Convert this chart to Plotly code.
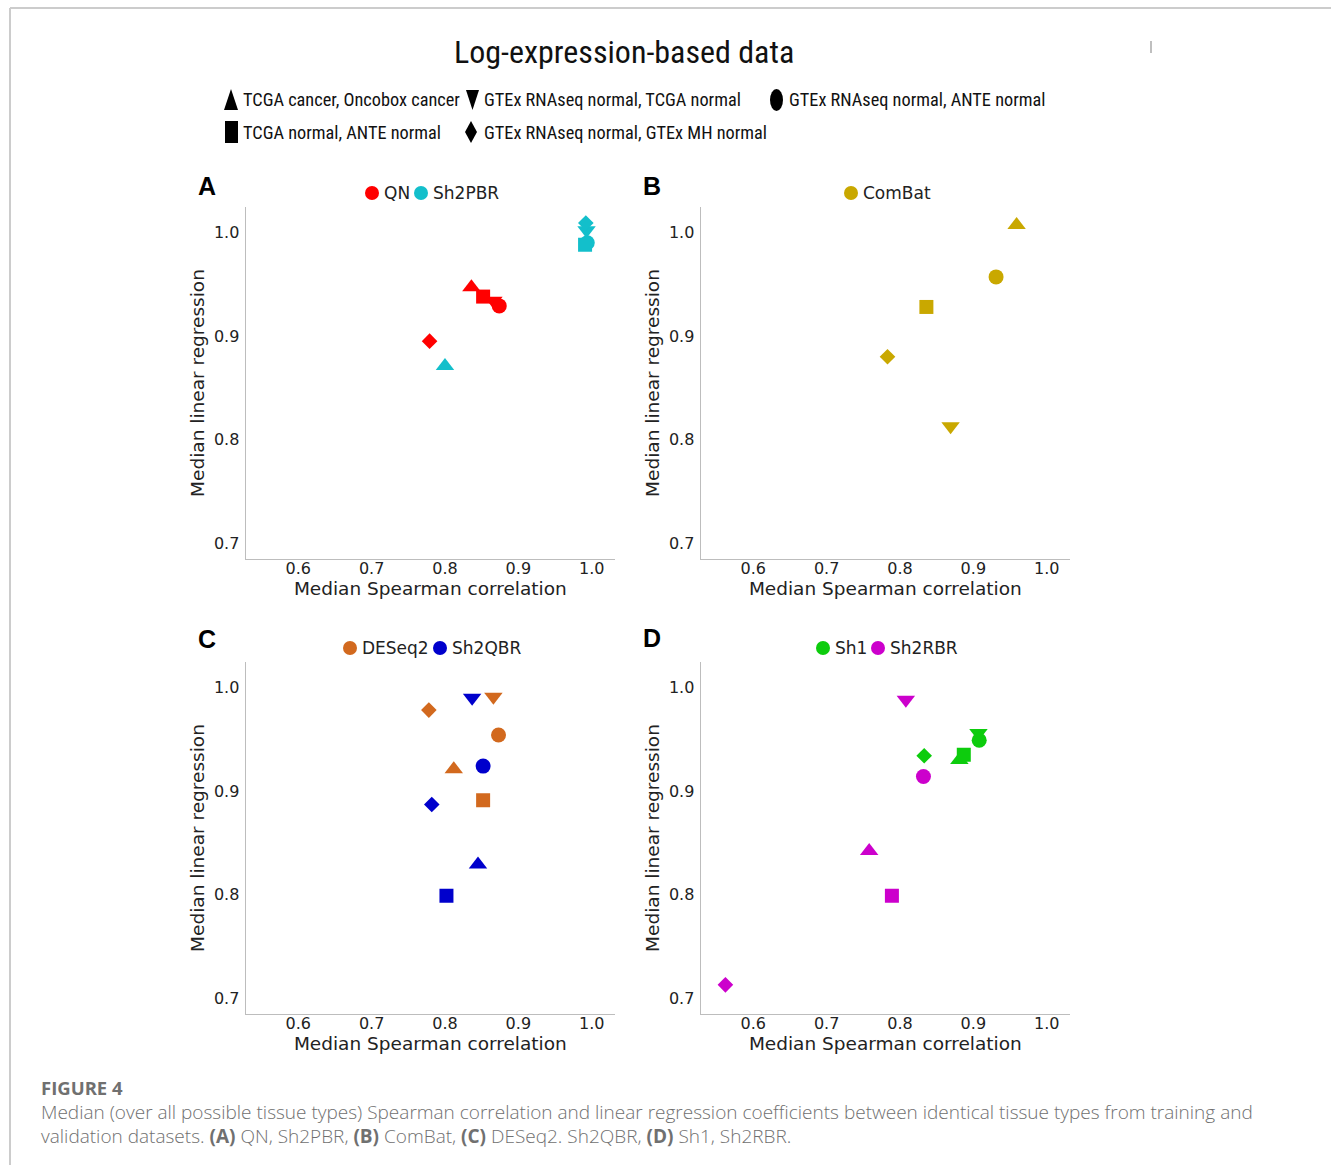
import plotly.graph_objects as go

W, H = 1331, 1165

# Shape order used for every method: sample pairs
pair_symbols = ["triangle-up", "triangle-down", "circle", "square", "diamond"]
pair_labels = [
    "TCGA cancer, Oncobox cancer",
    "GTEx RNAseq normal, TCGA normal",
    "GTEx RNAseq normal, ANTE normal",
    "TCGA normal, ANTE normal",
    "GTEx RNAseq normal, GTEx MH normal",
]

# Median Spearman correlation (x) and median linear regression (y) per method
qn_x = [0.836, 0.866, 0.874, 0.852, 0.779]
qn_y = [0.947, 0.934, 0.929, 0.938, 0.895]
sh2pbr_x = [0.800, 0.993, 0.994, 0.991, 0.992]
sh2pbr_y = [0.871, 1.002, 0.990, 0.988, 1.009]
combat_x = [0.959, 0.869, 0.931, 0.836, 0.783]
combat_y = [1.007, 0.813, 0.957, 0.928, 0.880]
deseq2_x = [0.812, 0.866, 0.873, 0.852, 0.778]
deseq2_y = [0.921, 0.991, 0.954, 0.891, 0.978]
sh2qbr_x = [0.845, 0.837, 0.852, 0.802, 0.782]
sh2qbr_y = [0.829, 0.990, 0.924, 0.799, 0.887]
sh1_x = [0.881, 0.907, 0.908, 0.887, 0.833]
sh1_y = [0.930, 0.956, 0.949, 0.935, 0.934]
sh2rbr_x = [0.758, 0.808, 0.832, 0.789, 0.562]
sh2rbr_y = [0.842, 0.988, 0.914, 0.799, 0.713]

x_ticks = [0.6, 0.7, 0.8, 0.9, 1.0]
y_ticks = [0.7, 0.8, 0.9, 1.0]

panels = [
    ("A", [("QN", "#ff0000", qn_x, qn_y), ("Sh2PBR", "#13bfcb", sh2pbr_x, sh2pbr_y)]),
    ("B", [("ComBat", "#c9a800", combat_x, combat_y)]),
    ("C", [("DESeq2", "#d2691e", deseq2_x, deseq2_y), ("Sh2QBR", "#0000cc", sh2qbr_x, sh2qbr_y)]),
    ("D", [("Sh1", "#0dcc0d", sh1_x, sh1_y), ("Sh2RBR", "#cc00cc", sh2rbr_x, sh2rbr_y)]),
]

marker_sizes = {"triangle-up": 16, "triangle-down": 16, "circle": 15,
                "square": 14, "diamond": 12}


def px(x):
    return x / W


def py(y):
    return 1 - y / H


# plot areas in pixels: (left, right, top, bottom)
boxes = {
    "A": (245.7, 615.0, 206.7, 559.3),
    "B": (700.7, 1070.0, 206.7, 559.3),
    "C": (245.7, 615.0, 661.7, 1014.3),
    "D": (700.7, 1070.0, 661.7, 1014.3),
}
# panel letter positions (left x, centre y) in pixels
letter_pos = {"A": (196, 186), "B": (641, 186), "C": (196, 639), "D": (641, 638)}

TICK_FONT = dict(family="DejaVu Sans", size=16, color="#222222")
TITLE_FONT = dict(family="DejaVu Sans", size=18.5, color="#222222")
NARROW = "Roboto Condensed, DejaVu Sans Condensed, sans-serif"

fig = go.Figure()
layout = dict(
    width=W, height=H, margin=dict(l=0, r=0, t=0, b=0),
    paper_bgcolor="white", plot_bgcolor="white", showlegend=False,
)
annotations = []
shapes = []

for i, (letter, series) in enumerate(panels, start=1):
    l, r, t, b = boxes[letter]
    xa, ya = f"xaxis{i if i > 1 else ''}", f"yaxis{i if i > 1 else ''}"
    xr, yr = f"x{i if i > 1 else ''}", f"y{i if i > 1 else ''}"
    layout[xa] = dict(
        domain=[px(l), px(r)], range=[0.5283, 1.0318], anchor=yr,
        tickvals=x_ticks, ticktext=[f"{v:.1f}" for v in x_ticks],
        showgrid=False, zeroline=False, showline=True, linecolor="#bdbdbd",
        linewidth=1.2, ticks="", tickfont=TICK_FONT, ticklabelstandoff=-6,
        title=dict(text="Median Spearman correlation", font=TITLE_FONT, standoff=0),
    )
    layout[ya] = dict(
        domain=[py(b), py(t)], range=[0.6846, 1.0247], anchor=xr,
        tickvals=y_ticks, ticktext=[f"{v:.1f}" for v in y_ticks],
        showgrid=False, zeroline=False, showline=True, linecolor="#bdbdbd",
        linewidth=1.2, ticks="", tickfont=TICK_FONT, ticklabelstandoff=2,
        title=dict(text="Median linear regression", font=TITLE_FONT, standoff=4),
    )
    for name, color, xs, ys in series:
        for sym, xv, yv in zip(pair_symbols, xs, ys):
            fig.add_trace(go.Scatter(
                x=[xv], y=[yv], mode="markers", xaxis=xr, yaxis=yr,
                name=name, hoverinfo="skip",
                marker=dict(symbol=sym, size=marker_sizes[sym], color=color,
                            line=dict(width=0)),
            ))

    # panel letter
    lx, ly = letter_pos[letter]
    annotations.append(dict(
        text=f"<b>{letter}</b>", x=px(lx), y=py(ly), xref="paper", yref="paper",
        xanchor="left", yanchor="middle", showarrow=False,
        font=dict(family="Liberation Sans", size=25, color="black"),
    ))

# per-panel method keys: (dot centre x, text left x, label, colour)
panel_keys = {
    "A": [(372, 382, "QN", "#ff0000"), (421, 431, "Sh2PBR", "#13bfcb")],
    "B": [(851, 861, "ComBat", "#c9a800")],
    "C": [(350, 360, "DESeq2", "#d2691e"), (440, 450, "Sh2QBR", "#0000cc")],
    "D": [(823, 833, "Sh1", "#0dcc0d"), (878, 888, "Sh2RBR", "#cc00cc")],
}
key_y = {"A": 193, "B": 193, "C": 648, "D": 648}
for letter, keys in panel_keys.items():
    yc = key_y[letter]
    for cx, tx, label, color in keys:
        shapes.append(dict(type="circle", xref="paper", yref="paper",
                           x0=px(cx - 7), x1=px(cx + 7), y0=py(yc + 7), y1=py(yc - 7),
                           fillcolor=color, line=dict(width=0)))
        annotations.append(dict(
            text=label, x=px(tx), y=py(yc), xref="paper", yref="paper",
            xanchor="left", yanchor="middle", showarrow=False,
            font=dict(family="DejaVu Sans", size=17, color="#222222"),
        ))

# figure title
annotations.append(dict(
    text="Log-expression-based data", x=px(624), y=py(52), xref="paper", yref="paper",
    xanchor="center", yanchor="middle", showarrow=False,
    font=dict(family=NARROW, size=32, color="#111111"),
))


def poly(points):
    return "M " + " L ".join(f"{px(a):.5f},{py(b):.5f}" for a, b in points) + " Z"


# black keys for the sample pairs
shapes += [
    dict(type="path", xref="paper", yref="paper", fillcolor="black", line=dict(width=0),
         path=poly([(224, 110), (238, 110), (231, 89)])),
    dict(type="path", xref="paper", yref="paper", fillcolor="black", line=dict(width=0),
         path=poly([(466, 90), (479, 90), (472.5, 110)])),
    dict(type="circle", xref="paper", yref="paper", fillcolor="black", line=dict(width=0),
         x0=px(770), x1=px(783), y0=py(111), y1=py(89)),
    dict(type="rect", xref="paper", yref="paper", fillcolor="black", line=dict(width=0),
         x0=px(225), x1=px(238), y0=py(143), y1=py(121)),
    dict(type="path", xref="paper", yref="paper", fillcolor="black", line=dict(width=0),
         path=poly([(471, 121), (477, 132), (471, 143), (465, 132)])),
]
key_text_pos = [(241, 100), (482, 100), (787, 100), (241, 132), (482, 132)]
for label, (tx, ty) in zip(pair_labels, key_text_pos):
    annotations.append(dict(
        text=label, x=px(tx), y=py(ty), xref="paper", yref="paper",
        xanchor="left", yanchor="middle", showarrow=False,
        font=dict(family=NARROW, size=18.3, color="#111111"),
    ))

# page frame and the small mark near the top right
shapes += [
    dict(type="line", xref="paper", yref="paper", x0=px(10), x1=1, y0=py(8), y1=py(8),
         line=dict(color="#cccccc", width=2)),
    dict(type="line", xref="paper", yref="paper", x0=px(10), x1=px(10), y0=py(8), y1=0,
         line=dict(color="#cccccc", width=2)),
    dict(type="line", xref="paper", yref="paper", x0=px(1151), x1=px(1151), y0=py(41), y1=py(53),
         line=dict(color="#aaaaaa", width=1.5)),
]

# caption
CAP = "Open Sans, Lato, sans-serif"
annotations += [
    dict(text="<b>FIGURE 4</b>", x=px(39), y=py(1087), xref="paper", yref="paper",
         xanchor="left", yanchor="middle", showarrow=False,
         font=dict(family=CAP, size=18.5, color="#707070")),
    dict(text="Median (over all possible tissue types) Spearman correlation and linear regression "
              "coefficients between identical tissue types from training and",
         x=px(39), y=py(1112), xref="paper", yref="paper",
         xanchor="left", yanchor="middle", showarrow=False,
         font=dict(family=CAP, size=19, color="#707070", weight=300)),
    dict(text="validation datasets. <b>(A)</b> QN, Sh2PBR, <b>(B)</b> ComBat, <b>(C)</b> DESeq2. "
              "Sh2QBR, <b>(D)</b> Sh1, Sh2RBR.",
         x=px(39), y=py(1136), xref="paper", yref="paper",
         xanchor="left", yanchor="middle", showarrow=False,
         font=dict(family=CAP, size=19, color="#707070", weight=300)),
]

layout["annotations"] = annotations
layout["shapes"] = shapes
fig.update_layout(**layout)
fig.write_html("out.html")
